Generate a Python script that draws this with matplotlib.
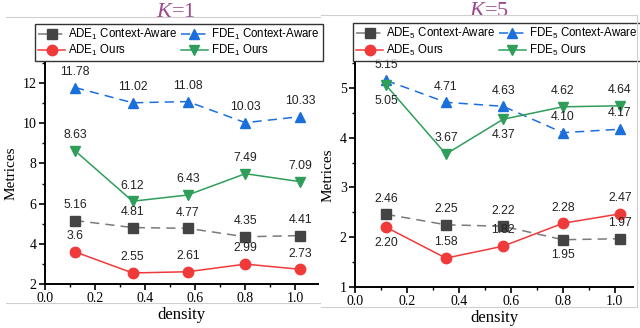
import matplotlib
matplotlib.use("Agg")
import matplotlib.pyplot as plt
from matplotlib.ticker import MultipleLocator
from matplotlib.lines import Line2D

plt.rcParams["font.family"] = ["Liberation Sans", "DejaVu Sans"]
plt.rcParams["mathtext.fontset"] = "custom"
plt.rcParams["mathtext.rm"] = "Liberation Sans"
plt.rcParams["mathtext.it"] = "Liberation Serif:italic"
plt.rcParams["mathtext.default"] = "regular"

# data
density = [0.12, 0.35, 0.57, 0.80, 1.02]

ade1_ca = [5.16, 4.81, 4.77, 4.35, 4.41]
fde1_ca = [11.78, 11.02, 11.08, 10.03, 10.33]
ade1_ours = [3.60, 2.55, 2.61, 2.99, 2.73]
fde1_ours = [8.63, 6.12, 6.43, 7.49, 7.09]
ade1_lbl = ["5.16", "4.81", "4.77", "4.35", "4.41"]
fde1_lbl = ["11.78", "11.02", "11.08", "10.03", "10.33"]
ade1o_lbl = ["3.6", "2.55", "2.61", "2.99", "2.73"]
fde1o_lbl = ["8.63", "6.12", "6.43", "7.49", "7.09"]

ade5_ca = [2.46, 2.25, 2.22, 1.95, 1.97]
fde5_ca = [5.15, 4.71, 4.63, 4.10, 4.17]
ade5_ours = [2.20, 1.58, 1.82, 2.28, 2.47]
fde5_ours = [5.05, 3.67, 4.37, 4.62, 4.64]
ade5_lbl = ["2.46", "2.25", "2.22", "1.95", "1.97"]
fde5_lbl = ["5.15", "4.71", "4.63", "4.10", "4.17"]
ade5o_lbl = ["2.20", "1.58", "1.82", "2.28", "2.47"]
fde5o_lbl = ["5.05", "3.67", "4.37", "4.62", "4.64"]

# label side: +1 above, -1 below
ade5_side = [1, 1, 1, -1, 1]
fde5_side = [1, 1, 1, 1, 1]
ade5o_side = [-1, 1, 1, 1, 1]
fde5o_side = [-1, 1, -1, 1, 1]

C_GRAY = "#444444"
C_GRAYL = "#7a7a7a"
C_BLUE = "#1a6fdc"
C_RED = "#f03a3a"
C_GREEN = "#2f9e5a"
C_TITLE = "#9a4a8c"

fig = plt.figure(figsize=(6.4, 3.28), dpi=100)
ax1 = fig.add_axes([45 / 640, 1 - 284 / 328, 273 / 640, 221 / 328])
ax2 = fig.add_axes([355 / 640, 1 - 287 / 328, 278 / 640, 224 / 328])


def draw(ax, series, k, ylim, ymaj, ymin, leg_x):
    handles = []
    for y, lbls, sides, color, lcolor, marker, ls, name in series:
        h, = ax.plot(density, y, color=lcolor, ls=ls, lw=1.1, marker=marker,
                     markersize=7.5, markerfacecolor=color, markeredgecolor=color,
                     dashes=(6, 4) if ls == "--" else (None, None), label=name)
        handles.append(h)
        for xv, yv, t, s in zip(density, y, lbls, sides):
            ax.annotate(t, (xv, yv), xytext=(0, 7 * s), textcoords="offset points",
                        ha="center", va="bottom" if s > 0 else "top",
                        fontsize=8.8, color="#222222")
    ax.set_xlim(0, 1.09)
    ax.set_ylim(*ylim)
    ax.xaxis.set_major_locator(MultipleLocator(0.2))
    ax.xaxis.set_minor_locator(MultipleLocator(0.1))
    ax.yaxis.set_major_locator(MultipleLocator(ymaj))
    ax.yaxis.set_minor_locator(MultipleLocator(ymin))
    for sp in ["top", "right"]:
        ax.spines[sp].set_visible(False)
    for sp in ["left", "bottom"]:
        ax.spines[sp].set_linewidth(1.4)
    ax.tick_params(which="major", direction="out", length=4, width=1.2,
                   labelsize=10, pad=2)
    ax.tick_params(which="minor", direction="out", length=2.5, width=1.0)
    for lab in ax.get_xticklabels() + ax.get_yticklabels():
        lab.set_family("Liberation Serif")
    ax.set_xlabel("density", family="Liberation Serif", fontsize=12, labelpad=1)
    ax.set_ylabel("Metrices", family="Liberation Serif", fontsize=11, labelpad=4)
    ax.text(0.48, 1.228, r"$\mathit{K}$=" + str(k), transform=ax.transAxes,
            ha="center", va="center", fontsize=16, color=C_TITLE,
            family="Liberation Serif")
    # row-wise order: CA pair on top row, Ours pair below
    order = [handles[0], handles[2], handles[1], handles[3]]
    leg = ax.legend(handles=order, ncol=2, loc="upper center",
                    bbox_to_anchor=(leg_x, 1.178),
                    borderaxespad=0, fontsize=8.3, frameon=True, fancybox=False,
                    edgecolor="black", handlelength=2.4, handletextpad=0.25,
                    columnspacing=0.25, labelspacing=0.15, borderpad=0.25)
    leg.get_frame().set_linewidth(1.0)


series1 = [
    (ade1_ca, ade1_lbl, [1] * 5, C_GRAY, C_GRAYL, "s", "--", "ADE$_1$ Context-Aware"),
    (fde1_ca, fde1_lbl, [1] * 5, C_BLUE, C_BLUE, "^", "--", "FDE$_1$ Context-Aware"),
    (ade1_ours, ade1o_lbl, [1] * 5, C_RED, C_RED, "o", "-", "ADE$_1$ Ours"),
    (fde1_ours, fde1o_lbl, [1] * 5, C_GREEN, C_GREEN, "v", "-", "FDE$_1$ Ours"),
]
series5 = [
    (ade5_ca, ade5_lbl, ade5_side, C_GRAY, C_GRAYL, "s", "--", "ADE$_5$ Context-Aware"),
    (fde5_ca, fde5_lbl, fde5_side, C_BLUE, C_BLUE, "^", "--", "FDE$_5$ Context-Aware"),
    (ade5_ours, ade5o_lbl, ade5o_side, C_RED, C_RED, "o", "-", "ADE$_5$ Ours"),
    (fde5_ours, fde5o_lbl, fde5o_side, C_GREEN, C_GREEN, "v", "-", "FDE$_5$ Ours"),
]

draw(ax1, series1, 1, (2, 13), 2, 1, 0.49)
draw(ax2, series5, 5, (1, 5.5), 1, 0.5, 0.51)
ax2.set_xlim(0, 1.07)

# faint frame lines from the original composite
fig.add_artist(Line2D([0.01, 0.5], [1 - 17 / 328] * 2, color="#d0d0d0", lw=0.8))
fig.add_artist(Line2D([0.01, 0.5], [1 - 303 / 328] * 2, color="#d0d0d0", lw=0.8))
fig.add_artist(Line2D([0.502, 0.995], [1 - 15 / 328] * 2, color="#d0d0d0", lw=0.8))
fig.add_artist(Line2D([0.502, 0.995], [1 - 307 / 328] * 2, color="#d0d0d0", lw=0.8))
fig.add_artist(Line2D([0.995, 0.995], [1 - 15 / 328, 1 - 307 / 328], color="#d0d0d0", lw=0.8))

fig.savefig("out.png", dpi=100)
